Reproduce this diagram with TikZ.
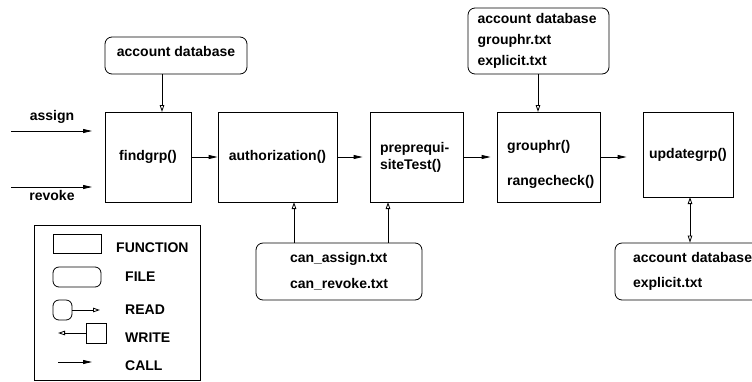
\documentclass[tikz,border=0pt]{standalone}
\usepackage{fontspec}
\setmainfont{Liberation Sans}
\usetikzlibrary{arrows.meta}
\begin{document}
\begin{tikzpicture}[x=1pt,y=-1pt,every node/.style={font=\fontsize{14}{17}\selectfont\bfseries}]
\tikzstyle{function} = [draw,line width=0.8,minimum width=86,minimum height=90,inner sep=0];
\tikzstyle{datafile} = [draw,line width=0.8,rounded corners=7,inner sep=0];
\tikzstyle{tag} = [anchor=west,inner sep=0];
\tikzstyle{call} = [line width=0.8,-{Triangle[length=9pt,width=4pt]}];
\tikzstyle{read} = [line width=0.8,-{Triangle[open,length=7pt,width=4.5pt]}];
\useasboundingbox (0,0) rectangle (752,381);
\clip (0,0) rectangle (752,381);
\node [function] (v1) at (148,157) {findgrp()};
\node [function,minimum width=119] (v2) at (277.5,157) {authorization()};
\node [function,minimum width=93,align=left,text width=73] (v3) at (416.5,157) {preprequi-\\siteTest()};
\node [function,minimum width=103] (v4) at (548.5,157) {};
\node [tag,align=left] (v4t) at (507,164.5) {grouphr()\\[18pt]rangecheck()};
\node [function,minimum width=90,minimum height=85] (v5) at (688,154.5) {updategrp()};

\node [datafile,minimum width=142,minimum height=37,text depth=8] (d1) at (176,55.5) {account database};
\node [datafile,minimum width=141,minimum height=66,align=left,text width=122,font=\fontsize{14}{21}\selectfont\bfseries] (d2) at (538.5,41) {account database\\grouphr.txt\\explicit.txt};
\node [datafile,minimum width=166,minimum height=57,align=left,text width=98] (d3) at (339,271.5) {can\_assign.txt\\[9pt]can\_revoke.txt};
\node [datafile,minimum width=160,minimum height=57,align=left,text width=124] (d4) at (695,271.5) {account database\\[8pt]explicit.txt};

\node (s1) at (52,117) {assign};
\node (s2) at (52,195) {revoke};
\coordinate (a1) at (11,131);
\coordinate (a2) at (92,131);
\coordinate (b1) at (11,187);
\coordinate (b2) at (92,187);
\draw [call] (a1) -- (a2);
\draw [call] (b1) -- (b2);
\draw [call] (v1) -- (v2);
\draw [call,shorten >=7] (v2) -- (v3);
\draw [call,shorten >=6] (v3) -- (v4);
\draw [call,shorten >=16] (v4.east) -- (v4.east -| v5.west);

\coordinate (r1) at (162,112);
\coordinate (r2) at (538,112);
\coordinate (r3) at (294,202);
\coordinate (r4) at (388,202);
\coordinate (r5) at (690,197);
\draw [read] (d1.south -| r1) -- (r1);
\draw [read] (d2.south -| r2) -- (r2);
\draw [read] (d3.north -| r3) -- (r3);
\draw [read] (d3.north -| r4) -- (r4);
\draw [read,{Triangle[open,length=7pt,width=4.5pt]}-{Triangle[open,length=7pt,width=4.5pt]}] (r5) -- (d4.north -| r5);

% legend
\node [draw,line width=0.8,minimum width=166,minimum height=155] (l0) at (117,302.5) {};
\node [draw,line width=0.8,minimum width=48,minimum height=19] (l1) at (77,243.5) {};
\node [datafile,minimum width=48,minimum height=20,rounded corners=6] (l2) at (77,277) {};
\node [datafile,minimum width=19,minimum height=20,rounded corners=6] (l3) at (62.5,310) {};
\node [draw,line width=0.8,minimum size=20] (l4) at (96,333) {};
\coordinate (l3e) at (100,310);
\coordinate (l4e) at (58,333);
\coordinate (l5a) at (58,362);
\coordinate (l5b) at (92,362);
\draw [read] (l3) -- (l3e);
\draw [read] (l4) -- (l4e);
\draw [call] (l5a) -- (l5b);
\node [tag] (t1) at (116,248) {FUNCTION};
\node [tag] (t2) at (125,277) {FILE};
\node [tag] (t3) at (125,310) {READ};
\node [tag] (t4) at (125,338) {WRITE};
\node [tag] (t5) at (125,366) {CALL};
\end{tikzpicture}
\end{document}
